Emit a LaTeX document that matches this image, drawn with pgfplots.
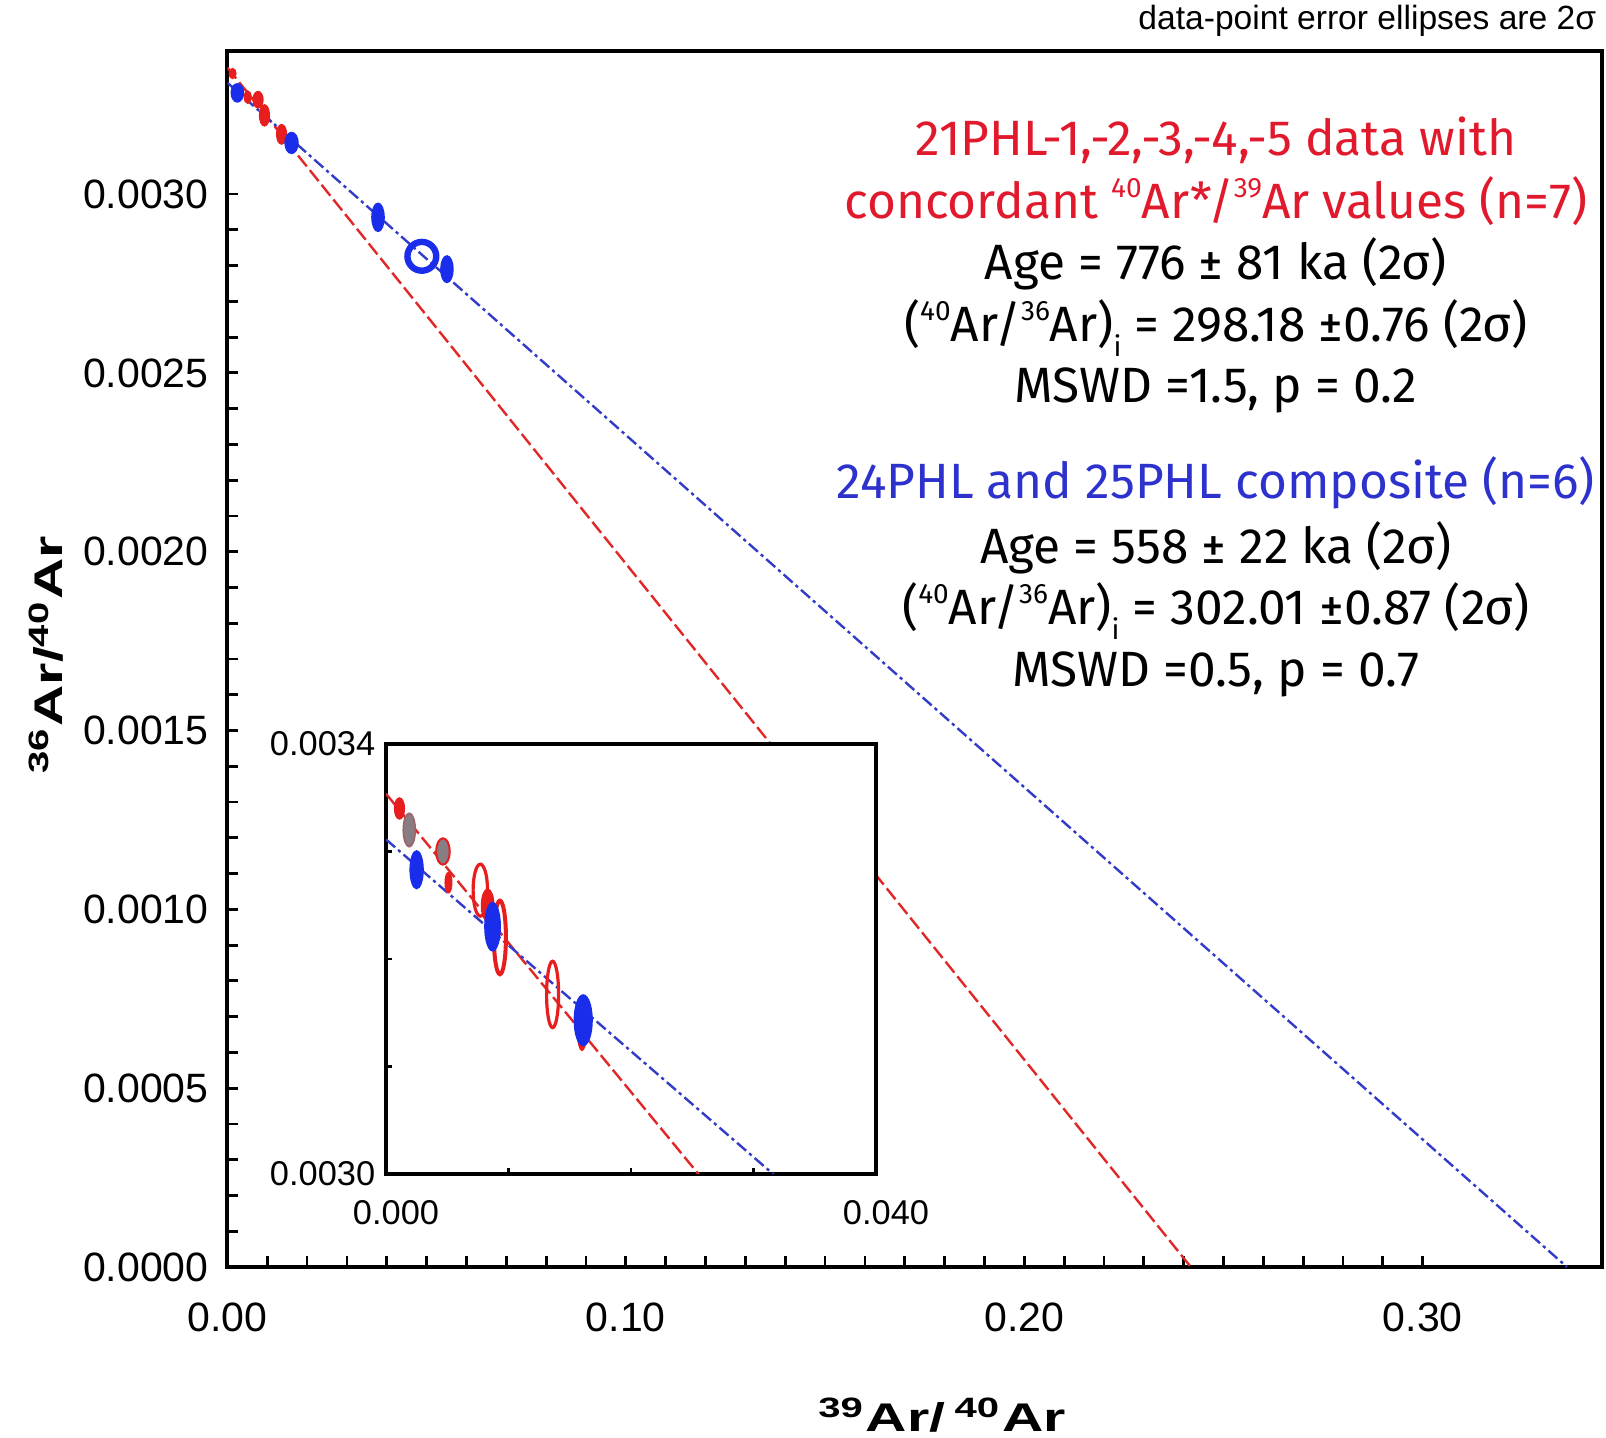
\documentclass[border=0pt]{standalone}
\usepackage{fontspec}
\setmainfont{Liberation Sans}
\newfontfamily\annfont{Fira Sans}
\usepackage{graphicx}
\usepackage{pgfplots}
\pgfplotsset{compat=1.18}

\definecolor{lred}{RGB}{225,40,40}
\definecolor{lblue}{RGB}{50,60,200}
\definecolor{tred}{RGB}{225,25,45}
\definecolor{tblue}{RGB}{45,50,205}
\definecolor{mblue}{RGB}{25,45,235}
\definecolor{mred}{RGB}{232,30,30}
\definecolor{mgrey}{RGB}{135,125,130}

\newcommand{\sups}[1]{\raisebox{0.42em}{\fontsize{7}{8}\selectfont #1}}
\newcommand{\subs}[1]{\raisebox{-0.3em}{\fontsize{7}{8}\selectfont #1}}

\pgfplotsset{
  fe/.style n args={5}{only marks, mark=*, mark size=1pt,
    mark options={xscale=#1, yscale=#2, draw=#3, fill=#4, line width=#5}},
  oe/.style n args={4}{only marks, mark=o, mark size=1pt,
    mark options={xscale=#1, yscale=#2, draw=#3, line width=#4}},
}

\begin{document}
\begin{tikzpicture}
\useasboundingbox (-56.85pt,-42.5pt) rectangle (344.65pt,316.75pt);

% ---------------- main axis ----------------
\begin{axis}[
  at={(0pt,0pt)}, anchor=south west,
  scale only axis, width=343.65pt, height=304pt,
  xmin=0, xmax=0.345, ymin=0, ymax=0.0034,
  xtick={0,0.1,0.2,0.3}, xticklabels={0.00,0.10,0.20,0.30},
  ytick={0,0.0005,0.001,0.0015,0.002,0.0025,0.003},
  yticklabels={0.0000,0.0005,0.0010,0.0015,0.0020,0.0025,0.0030},
  minor x tick num=9, minor y tick num=4,
  scaled ticks=false,
  tick align=inside, xtick pos=left, ytick pos=left,
  major tick length=2.75pt, minor tick length=2.75pt,
  tick style={black, line width=0.7pt},
  axis line style={line width=1pt},
  /pgf/number format/assume math mode=true,
  tick label style={font=\fontsize{10.25}{12}\selectfont, inner sep=0pt},
  xticklabel style={yshift=-8.75pt},
  yticklabel style={xshift=-4.5pt},
]
\addplot[lred, line width=0.6pt, dash pattern=on 3.5pt off 1.2pt] coordinates {(0,0.0033537) (0.2418,0)};
\addplot[lblue, line width=0.6pt, dash pattern=on 3pt off 1pt on 0.8pt off 1pt] coordinates {(0,0.0033112) (0.3362,0)};
% red data (21PHL)
\addplot[fe={0.8}{1.2}{mred}{mred}{0.4pt}] coordinates {(0.0013,0.003337)};
\addplot[fe={0.8}{1.5}{mred}{mred}{0.4pt}] coordinates {(0.0051,0.003271)};
\addplot[fe={1.2}{2.0}{mred}{mred}{0.4pt}] coordinates {(0.0077,0.003264)};
\addplot[fe={1.2}{2.6}{mred}{mred}{0.4pt}] coordinates {(0.0093,0.003220)};
\addplot[fe={1.2}{2.4}{mred}{mred}{0.4pt}] coordinates {(0.0136,0.003167)};
% blue data (24PHL/25PHL)
\addplot[fe={1.5}{2.25}{mblue}{mblue}{0.4pt}] coordinates {(0.0025,0.003283)};
\addplot[fe={1.6}{2.6}{mblue}{mblue}{0.4pt}] coordinates {(0.0161,0.003143)};
\addplot[fe={1.5}{3.5}{mblue}{mblue}{0.4pt}] coordinates {(0.0378,0.002935)};
\addplot[oe={3.6}{3.6}{mblue}{1.6pt}] coordinates {(0.0488,0.002826)};
\addplot[fe={1.5}{3.3}{mblue}{mblue}{0.4pt}] coordinates {(0.0551,0.002790)};
\end{axis}

% ---------------- inset axis ----------------
\begin{axis}[
  at={(39.65pt,23.25pt)}, anchor=south west,
  scale only axis, width=122.5pt, height=107.5pt,
  xmin=0, xmax=0.04, ymin=0.003, ymax=0.0034,
  xtick={0,0.01,0.02,0.03,0.04}, xticklabels={0.000,,,,0.040},
  ytick={0.003,0.0031,0.0032,0.0033,0.0034}, yticklabels={0.0030,,,,0.0034},
  scaled ticks=false,
  tick align=inside, xtick pos=left, ytick pos=left,
  major tick length=1.5pt,
  tick style={black, line width=0.6pt},
  axis line style={line width=0.8pt},
  axis background/.style={fill=white},
  /pgf/number format/assume math mode=true,
  tick label style={font=\fontsize{8.6}{10}\selectfont, inner sep=0pt},
  xticklabel style={yshift=-6.5pt, xshift=2.5pt},
  yticklabel style={xshift=-2.5pt},
]
\addplot[lred, line width=0.6pt, dash pattern=on 3.5pt off 1.2pt] coordinates {(0,0.0033537) (0.2418,0)};
\addplot[lblue, line width=0.6pt, dash pattern=on 3pt off 1pt on 0.8pt off 1pt] coordinates {(0,0.0033112) (0.3362,0)};
% grey (excluded) and red data
\addplot[fe={1.2}{2.6}{mred}{mred}{0.4pt}] coordinates {(0.0011,0.003340)};
\addplot[fe={1.5}{4.2}{mgrey!80!red}{mgrey}{0.4pt}] coordinates {(0.0019,0.003320)};
\addplot[fe={1.7}{3.3}{mred}{mgrey}{0.5pt}] coordinates {(0.00465,0.003300)};
\addplot[fe={0.8}{2.5}{mred}{mred}{0.4pt}] coordinates {(0.0051,0.003271)};
\addplot[fe={1.5}{4.0}{mred}{mred}{0.4pt}] coordinates {(0.0083,0.003250)};
\addplot[oe={1.8}{6.5}{mred}{0.8pt}] coordinates {(0.0077,0.003264)};
\addplot[oe={1.5}{9.2}{mred}{1.0pt}] coordinates {(0.0093,0.003220)};
\addplot[oe={1.5}{8.3}{mred}{0.8pt}] coordinates {(0.0136,0.003167)};
\addplot[fe={1.0}{4.0}{mred}{mred}{0.4pt}] coordinates {(0.0160,0.003130)};
% blue data
\addplot[fe={1.6}{4.7}{mblue}{mblue}{0.4pt}] coordinates {(0.0025,0.003283)};
\addplot[fe={1.9}{6.0}{mblue}{mblue}{0.4pt}] coordinates {(0.0087,0.003230)};
\addplot[fe={2.2}{6.3}{mblue}{mblue}{0.4pt}] coordinates {(0.0161,0.003143)};
\end{axis}

% ---------------- labels ----------------
\node[rotate=90, anchor=center] at (-45.35pt,153pt)
  {\bfseries\fontsize{10}{12}\selectfont\scalebox{1.43}[1]{\textsuperscript{36}Ar/\textsuperscript{40}Ar}};
\node[anchor=center] at (178.65pt,-37pt)
  {\bfseries\fontsize{10}{12}\selectfont\scalebox{1.43}[1]{\textsuperscript{39}Ar/\,\textsuperscript{40}Ar}};

\node[anchor=base east, inner sep=0pt, font=\fontsize{8.4}{10}\selectfont] at (342.4pt,309.3pt)
  {data-point error ellipses are 2σ};

\begin{scope}[every node/.style={anchor=base, inner sep=0pt, font=\annfont\fontsize{12.4}{14}\selectfont}]
\node[text=tred] at (247.15pt,277.9pt) {21PHL-1,-2,-3,-4,-5 data with};
\node[text=tred] at (247.15pt,262.15pt) {concordant \sups{40}Ar*/\sups{39}Ar values (n=7)};
\node at (247.15pt,246.9pt) {Age = 776 ± 81 ka (2σ)};
\node at (247.15pt,231.4pt) {(\sups{40}Ar/\sups{36}Ar)\subs{i} = 298.18 ±0.76 (2σ)};
\node at (247.15pt,216.1pt) {MSWD =1.5, p = 0.2};
\node[text=tblue] at (247.15pt,192.15pt) {24PHL and 25PHL composite (n=6)};
\node at (247.15pt,175.9pt) {Age = 558 ± 22 ka (2σ)};
\node at (247.15pt,160.65pt) {(\sups{40}Ar/\sups{36}Ar)\subs{i} = 302.01 ±0.87 (2σ)};
\node at (247.15pt,145.15pt) {MSWD =0.5, p = 0.7};
\end{scope}
\end{tikzpicture}
\end{document}
